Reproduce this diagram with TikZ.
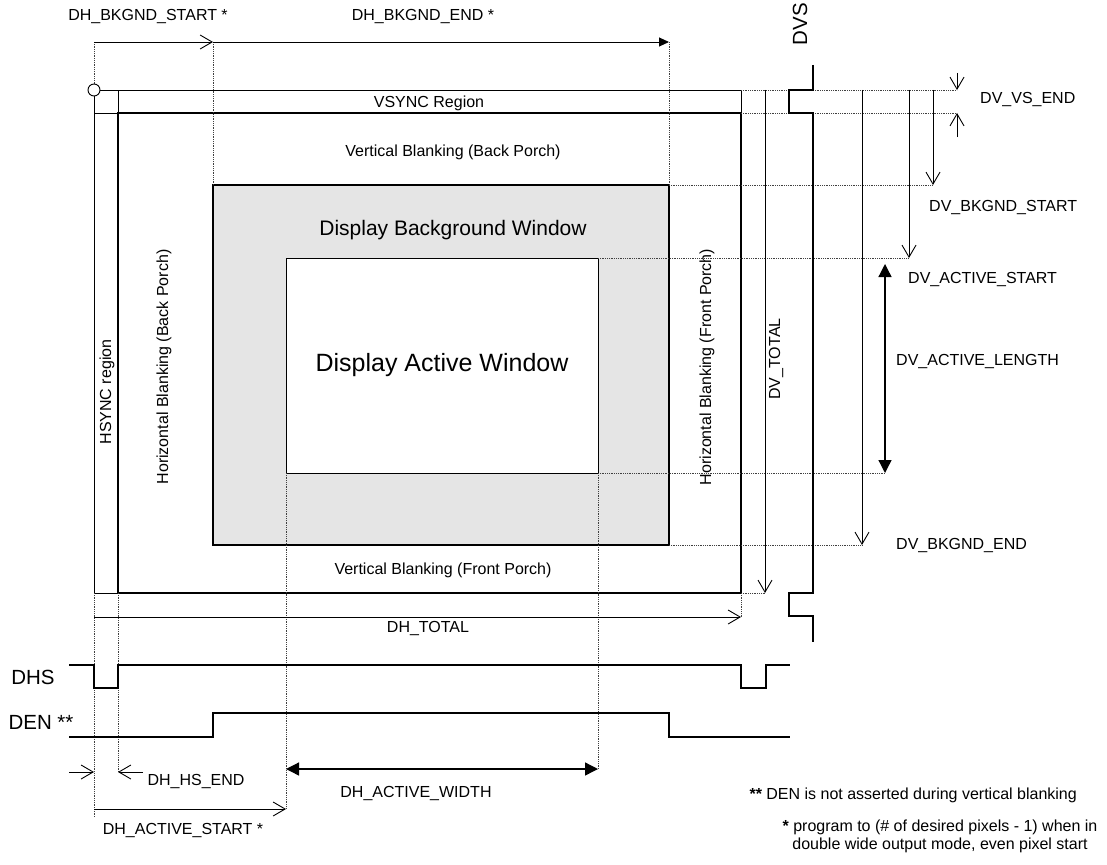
\documentclass[tikz,border=0pt]{standalone}
\usepackage{fontspec}
\setmainfont{Liberation Sans}
\usetikzlibrary{arrows.meta, positioning, calc}

\tikzset{
  thk/.style={line width=2.2pt},
  thn/.style={line width=0.9pt},
  guide/.style={densely dotted, line width=0.8pt, black!75},
  openarr/.style={thn, -{Straight Barb[length=12pt,width=14pt]}},
  fillarr/.style={line width=1.3pt, {Triangle[length=13pt,width=13pt]}-{Triangle[length=13pt,width=13pt]}},
  lbl/.style={font=\fontsize{16}{18}\selectfont, inner sep=0pt},
  sig/.style={font=\fontsize{20.5}{23}\selectfont, inner sep=0pt},
  note/.style={font=\fontsize{16}{18}\selectfont, inner sep=0pt},
}

\begin{document}
\begin{tikzpicture}[x=1pt, y=-1pt]
  \useasboundingbox (0,0) rectangle (1107,864);

  % background and active windows
  \fill[black!10] (213,185) rectangle (669,545);
  \draw[thn, fill=white] (286,258) rectangle (598,473);
  \draw[thk] (213,185) rectangle (669,545);

  % sync regions and frame
  \draw[thn] (94,90) rectangle (741,113);
  \draw[thn] (94,90) rectangle (118,593);
  \draw[thk] (118,113) rectangle (741,593);

  % dotted guides
  \draw[guide] (94,42) -- (94,84);
  \draw[guide] (213,42) -- (213,185);
  \draw[guide] (669,42) -- (669,185);
  \draw[guide] (741,90) -- (957,90);
  \draw[guide] (741,113) -- (957,113);
  \draw[guide] (669,185) -- (933,185);
  \draw[guide] (598,258) -- (909,258);
  \draw[guide] (598,473) -- (885,473);
  \draw[guide] (669,545) -- (862,545);
  \draw[guide] (741,593) -- (765,593);
  \draw[guide] (741,593) -- (741,617);
  \draw[guide] (94,593) -- (94,817);
  \draw[guide] (118,593) -- (118,772);
  \draw[guide] (286,473) -- (286,809);
  \draw[guide] (598,473) -- (598,769);
  \draw[thn, fill=white] (94,90) circle[radius=6pt];

  % horizontal dimensions
  \draw[openarr] (94,42) -- (213,42);
  \draw[thn, -{Triangle[length=10pt,width=9pt]}] (213,42) -- (669,42);
  \draw[openarr] (94,617) -- (741,617);
  \draw[openarr] (69,772) -- (94,772);
  \draw[openarr] (143,772) -- (118,772);
  \draw[fillarr] (286,769) -- (598,769);
  \draw[openarr] (94,809) -- (286,809);

  % vertical dimensions
  \draw[openarr] (957,73) -- (957,90);
  \draw[openarr] (957,137) -- (957,113);
  \draw[openarr] (933,90) -- (933,185);
  \draw[openarr] (909,90) -- (909,258);
  \draw[openarr] (862,90) -- (862,545);
  \draw[openarr] (765,90) -- (765,593);
  \draw[fillarr] (885,264) -- (885,473);

  % sync signals
  \draw[thk] (813,65) -- (813,90) -- (789,90) -- (789,113) -- (813,113) -- (813,593)
    -- (789,593) -- (789,616) -- (813,616) -- (813,642);
  \draw[thk] (69,665) -- (94,665) -- (94,688) -- (118,688) -- (118,665) -- (741,665)
    -- (741,688) -- (766,688) -- (766,665) -- (790,665);
  \draw[thk] (69,737) -- (213,737) -- (213,713) -- (669,713) -- (669,737) -- (790,737);

  % region labels
  \node[lbl] (vsync) at (429,103) {VSYNC Region};
  \node[lbl] (vbback) at (453,152) {Vertical Blanking (Back Porch)};
  \node[lbl] (vbfront) at (443,570) {Vertical Blanking (Front Porch)};
  \node[lbl, rotate=90] (hsync) at (107,392) {HSYNC region};
  \node[lbl, rotate=90] (hbback) at (164,367) {Horizontal Blanking (Back Porch)};
  \node[lbl, rotate=90] (hbfront) at (707,367) {Horizontal Blanking (Front Porch)};
  \node[font=\fontsize{21}{24}\selectfont, inner sep=0pt] (bkgnd) at (453,230) {Display Background Window};
  \node[font=\fontsize{25}{28}\selectfont, inner sep=0pt] (active) at (442,365) {Display Active Window};

  % dimension labels
  \node[lbl] (hbkstart) at (148,17) {DH\_BKGND\_START *};
  \node[lbl] (hbkend) at (423,17) {DH\_BKGND\_END *};
  \node[lbl] (htotal) at (428,628) {DH\_TOTAL};
  \node[lbl] (hhsend) at (196,781) {DH\_HS\_END};
  \node[lbl] (hactw) at (416,793) {DH\_ACTIVE\_WIDTH};
  \node[lbl] (hacts) at (183,830) {DH\_ACTIVE\_START *};
  \node[lbl, rotate=90] (vtotal) at (776,359) {DV\_TOTAL};
  \node[lbl, anchor=west] (vvsend) at (980,100) {DV\_VS\_END};
  \node[lbl, anchor=west] (vbkstart) at (929,208) {DV\_BKGND\_START};
  \node[lbl, anchor=west] (vacts) at (908,280) {DV\_ACTIVE\_START};
  \node[lbl, anchor=west] (vactl) at (896,362) {DV\_ACTIVE\_LENGTH};
  \node[lbl, anchor=west] (vbkend) at (896,545) {DV\_BKGND\_END};

  % signal names
  \node[sig] (dhs) at (33,677) {DHS};
  \node[sig] (den) at (41,722) {DEN **};
  \node[sig, rotate=90] (dvs) at (800,24) {DVS};

  % notes
  \node[note, anchor=east] (noteden) at (1077,795) {\textbf{**} DEN is not asserted during vertical blanking};
  \node[note, align=center] (noteprog) at (940,836)
    {\textbf{*} program to (\# of desired pixels - 1) when in\\double wide output mode, even pixel start};
\end{tikzpicture}
\end{document}
